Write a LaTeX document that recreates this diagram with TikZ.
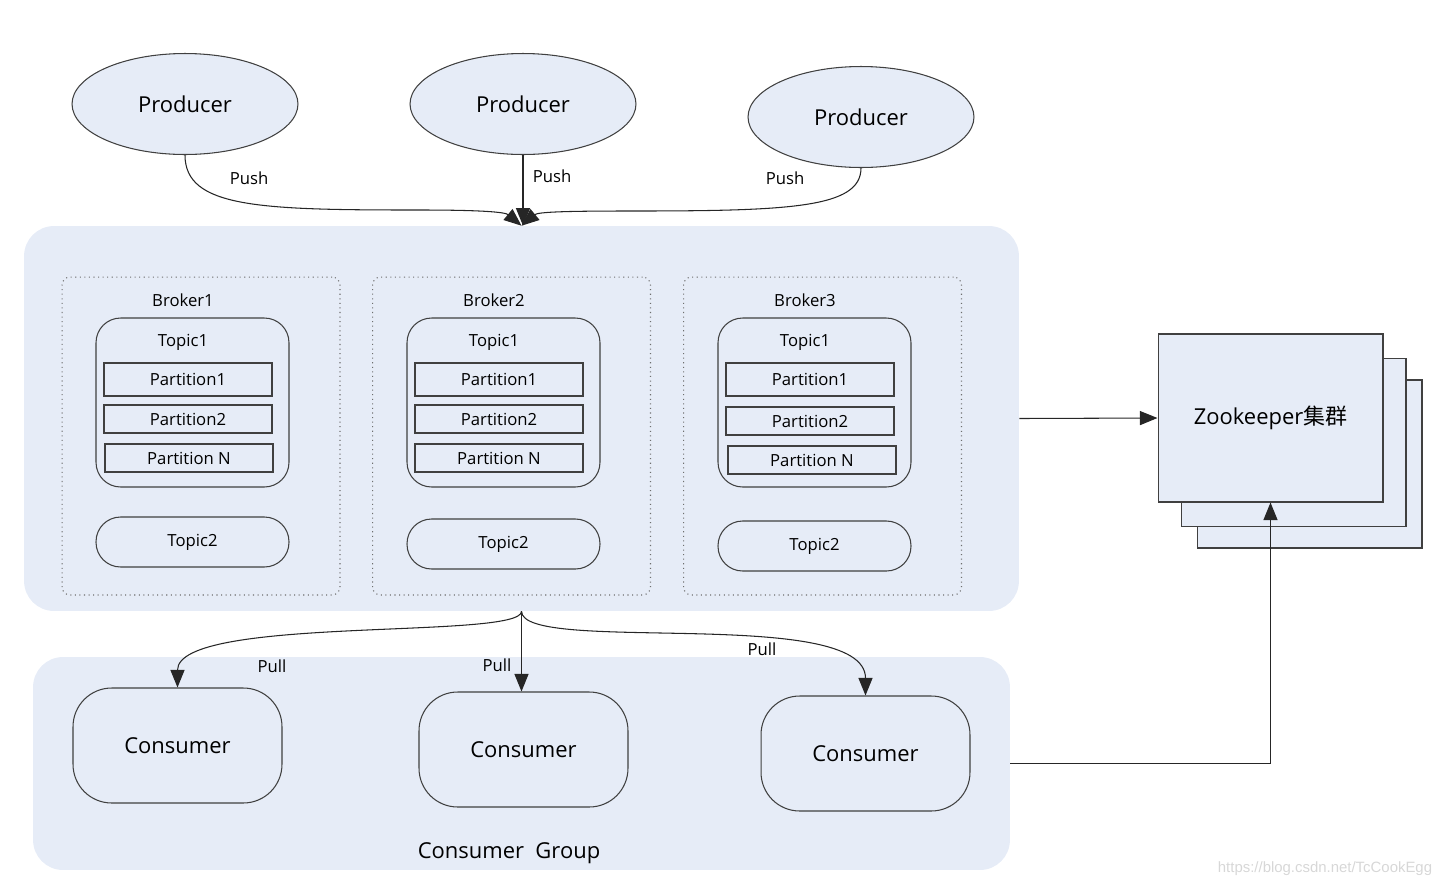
\documentclass[tikz,border=0pt]{standalone}
\usepackage{fontspec}
\setmainfont{Open Sans}
\newfontfamily\cjk{Noto Sans CJK SC}
\usepackage{xcolor}
\definecolor{kfill}{RGB}{230,236,247}
\definecolor{kline}{RGB}{64,64,64}
\definecolor{kdot}{RGB}{110,110,110}
\definecolor{kmark}{RGB}{215,215,215}
\usepackage{tikz}
\usetikzlibrary{arrows.meta, positioning, shapes.geometric}

\tikzset{
  bigfont/.style={font=\fontsize{12.5}{15}\selectfont},
  smallfont/.style={font=\fontsize{9.5}{11}\selectfont},
  producer/.style={ellipse, draw=kline, fill=kfill, line width=0.6pt,
    minimum width=4.52cm, minimum height=2.02cm, inner sep=0pt, bigfont},
  area/.style={rectangle, fill=kfill, draw=none, rounded corners=17pt, inner sep=0pt},
  brokerbox/.style={rectangle, draw=kdot, dotted, line width=0.6pt, rounded corners=4.5pt,
    minimum width=5.56cm, minimum height=6.36cm, inner sep=0pt},
  topicbox/.style={rectangle, draw=kline, fill=kfill, line width=0.6pt, rounded corners=14pt,
    minimum width=3.86cm, inner sep=0pt, smallfont},
  partbox/.style={rectangle, draw=kline, fill=kfill, line width=0.6pt,
    minimum width=3.36cm, inner sep=0pt, smallfont},
  consumer/.style={rectangle, draw=kline, fill=kfill, line width=0.6pt, rounded corners=22pt,
    minimum width=4.18cm, minimum height=2.3cm, inner sep=0pt, bigfont},
  zkbox/.style={rectangle, draw=kline, fill=kfill, line width=0.6pt,
    minimum width=4.5cm, minimum height=3.36cm, inner sep=0pt},
  arr/.style={-{Triangle[length=10pt,width=8pt]}, line width=0.6pt, draw=black!85},
  lbl/.style={smallfont, inner sep=0pt}
}

\begin{document}
\begin{tikzpicture}[x=0.02cm, y=-0.02cm]
  \useasboundingbox (0,0) rectangle (1448,887);

  % Producers
  \node[producer] (p1) at (185,104) {Producer};
  \node[producer] (p2) at (523,104) {Producer};
  \node[producer] (p3) at (861,117) {Producer};

  % Broker cluster background
  \node[area, minimum width=19.9cm, minimum height=7.7cm] (ba) at (521.5,418.5) {};

  % Broker1
  \node[brokerbox] (b1) at (201,436) {};
  \node[lbl] (b1name) at (183,300) {Broker1};
  \node[topicbox, minimum height=3.38cm] (b1t1) at (192.5,402.5) {};
  \node[lbl] (b1t1name) at (183,342) {Topic1};
  \node[partbox, minimum height=0.66cm] (b1p1) at (188,379.5) {Partition1};
  \node[partbox, minimum height=0.56cm] (b1p2) at (188,419) {Partition2};
  \node[partbox, minimum height=0.56cm] (b1p3) at (189,458) {Partition N};
  \node[topicbox, minimum height=1cm] (b1t2) at (192.5,542) {Topic2};

  % Broker2
  \node[brokerbox] (b2) at (511.5,436) {};
  \node[lbl] (b2name) at (494,300) {Broker2};
  \node[topicbox, minimum height=3.38cm] (b2t1) at (503.5,402.5) {};
  \node[lbl] (b2t1name) at (494,342) {Topic1};
  \node[partbox, minimum height=0.66cm] (b2p1) at (499,379.5) {Partition1};
  \node[partbox, minimum height=0.56cm] (b2p2) at (499,419) {Partition2};
  \node[partbox, minimum height=0.56cm] (b2p3) at (499,458) {Partition N};
  \node[topicbox, minimum height=1cm] (b2t2) at (503.5,544) {Topic2};

  % Broker3
  \node[brokerbox] (b3) at (822.5,436) {};
  \node[lbl] (b3name) at (805,300) {Broker3};
  \node[topicbox, minimum height=3.38cm] (b3t1) at (814.5,402.5) {};
  \node[lbl] (b3t1name) at (805,342) {Topic1};
  \node[partbox, minimum height=0.66cm] (b3p1) at (810,379.5) {Partition1};
  \node[partbox, minimum height=0.56cm] (b3p2) at (810,421) {Partition2};
  \node[partbox, minimum height=0.56cm] (b3p3) at (812,460) {Partition N};
  \node[topicbox, minimum height=1cm] (b3t2) at (814.5,546) {Topic2};

  % Zookeeper cluster
  \node[zkbox] (zk3) at (1309.5,464) {};
  \node[zkbox] (zk2) at (1293.5,442.5) {};
  \node[zkbox, bigfont] (zk) at (1270.5,418) {Zookeeper{\cjk 集群}};

  % Consumer group
  \node[area, minimum width=19.54cm, minimum height=4.26cm] (cg) at (521.5,763.5) {};
  \node[bigfont, inner sep=0pt] (cgname) at (509,853) {Consumer\ \ Group};
  \node[consumer] (c1) at (177.5,745.5) {Consumer};
  \node[consumer] (c2) at (523.5,749.5) {Consumer};
  \node[consumer] (c3) at (865.5,753.5) {Consumer};

  % Push
  \draw[arr] (p1.south) .. controls (185,208) and (260,210) .. (420,210)
             .. controls (480,210) and (505,212) .. (ba.north);
  \draw[arr] (p2.south) -- (p2.south |- ba.north);
  \draw[arr] (p3.south) .. controls (861,208) and (790,211) .. (630,211)
             .. controls (565,211) and (538,212) .. (ba.north);
  \node[lbl] (push1) at (249,178) {Push};
  \node[lbl] (push2) at (552,176) {Push};
  \node[lbl] (push3) at (785,178) {Push};

  % Pull
  \draw[arr] (ba.south) .. controls (522,640) and (177.5,615) .. (c1.north);
  \draw[arr] (ba.south) -- (ba.south |- c2.north);
  \draw[arr] (ba.south) .. controls (522,655) and (865.5,605) .. (c3.north);
  \node[lbl] (pull1) at (272,666) {Pull};
  \node[lbl] (pull2) at (497,665) {Pull};
  \node[lbl] (pull3) at (762,649) {Pull};

  % Cluster registration
  \draw[arr] (ba.east) -- (zk.west);
  \draw[arr] (cg.east) -| (zk.south);

  \node[font=\fontsize{8.5}{10}\selectfont\fontspec{Liberation Sans}, text=kmark, inner sep=0pt]
       (mark) at (1325,869) {https://blog.csdn.net/TcCookEgg};
\end{tikzpicture}
\end{document}
